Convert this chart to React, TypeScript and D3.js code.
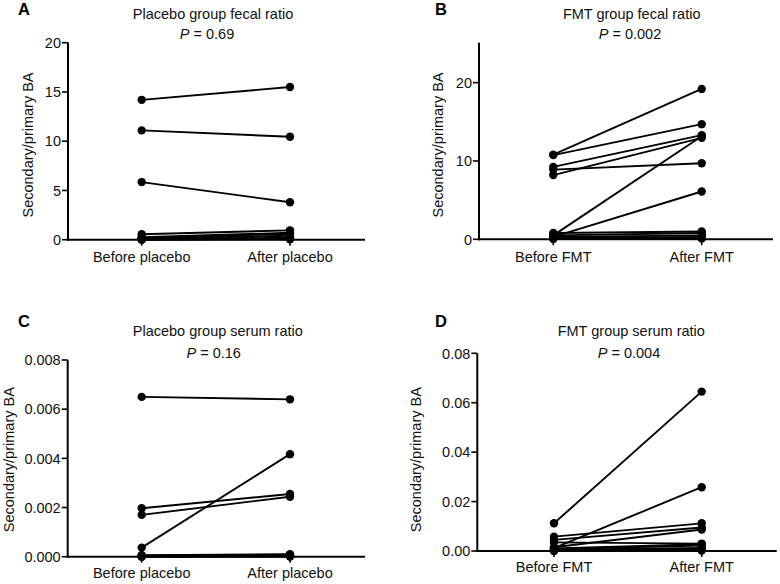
import React from "react";
import * as d3 from "d3";

// ---------- DATA ----------
const placeboLabels = ["Before placebo", "After placebo"];
const fmtLabels = ["Before FMT", "After FMT"];

const fecalPlaceboBefore = [14.2, 11.1, 5.85, 0.55, 0.25, 0.15, 0.1, 0.05, 0.02, 0.0];
const fecalPlaceboAfter = [15.5, 10.45, 3.8, 0.95, 0.7, 0.6, 0.4, 0.2, 0.1, 0.05];

const fecalFmtBefore = [10.8, 10.75, 9.25, 8.9, 8.2, 0.5, 0.3, 0.8, 0.5, 0.3, 0.15, 0.05];
const fecalFmtAfter = [19.2, 14.7, 13.3, 9.7, 12.95, 13.15, 6.1, 1.0, 0.8, 0.5, 0.3, 0.1];

const serumPlaceboBefore = [0.0065, 0.00197, 0.0017, 0.00037, 0.00006, 0.00004, 0.00003, 0.00002, 0.00001, 0.0];
const serumPlaceboAfter = [0.0064, 0.00255, 0.00244, 0.00417, 0.0001, 0.00008, 0.00005, 0.00003, 0.00002, 0.00001];

const serumFmtBefore = [0.0112, 0.0058, 0.0045, 0.0035, 0.0012, 0.0015, 0.001, 0.0008, 0.0005, 0.0003, 0.0002, 0.0];
const serumFmtAfter = [0.0645, 0.0112, 0.0095, 0.003, 0.0258, 0.0087, 0.0028, 0.0022, 0.0012, 0.0008, 0.0004, 0.0002];

const ticksA = [0, 5, 10, 15, 20];
const ticksB = [0, 10, 20];
const ticksC = [0, 0.002, 0.004, 0.006, 0.008];
const ticksD = [0, 0.02, 0.04, 0.06, 0.08];

const FONT = "'Liberation Sans', Arial, Helvetica, sans-serif";

type PanelProps = {
  letter: string;
  letterX: number;
  letterY: number;
  title: string;
  pValue: string;
  titleX: number;
  titleY: number;
  pX: number;
  pY: number;
  x0: number;
  xEnd: number;
  yTop: number;
  yBottom: number;
  domainMax: number;
  ticks: number[];
  tickFormat: (v: number) => string;
  xBefore: number;
  xAfter: number;
  catLabels: string[];
  catY: number;
  yLabelX: number;
  yLabelY: number;
  before: number[];
  after: number[];
};

function Panel(p: PanelProps) {
  const y = d3.scaleLinear().domain([0, p.domainMax]).range([p.yBottom, p.yTop]);
  const x = d3.scalePoint<string>().domain(p.catLabels).range([p.xBefore, p.xAfter]);
  const line = d3
    .line<[string, number]>()
    .x((d) => x(d[0]) as number)
    .y((d) => y(d[1]));
  const pairs = p.before.map((b, i) => [
    [p.catLabels[0], b],
    [p.catLabels[1], p.after[i]],
  ] as [string, number][]);
  return (
    <g fontFamily={FONT}>
      <text x={p.letterX} y={p.letterY} fontSize={16.5} fontWeight="bold" fill="#000">
        {p.letter}
      </text>
      <text x={p.titleX} y={p.titleY} fontSize={14.5} textAnchor="middle" fill="#111">
        {p.title}
      </text>
      <text x={p.pX} y={p.pY} fontSize={14.5} textAnchor="middle" fill="#111">
        <tspan fontStyle="italic">P</tspan>
        <tspan> = {p.pValue}</tspan>
      </text>
      {/* y axis */}
      <line x1={p.x0} x2={p.x0} y1={p.yTop} y2={p.yBottom + 1} stroke="#000" strokeWidth={2} />
      {p.ticks.map((t) => (
        <g key={t}>
          <line x1={p.x0 - 6} x2={p.x0} y1={y(t)} y2={y(t)} stroke="#000" strokeWidth={1.6} />
          <text
            x={p.x0 - 7}
            y={y(t)}
            dy="0.36em"
            fontSize={14.5}
            textAnchor="end"
            fill="#111"
          >
            {p.tickFormat(t)}
          </text>
        </g>
      ))}
      <text
        transform={`translate(${p.yLabelX},${p.yLabelY}) rotate(-90)`}
        fontSize={14.5}
        textAnchor="middle"
        fill="#111"
      >
        Secondary/primary BA
      </text>
      {/* x axis */}
      <line x1={p.x0 - 1} x2={p.xEnd} y1={p.yBottom} y2={p.yBottom} stroke="#000" strokeWidth={2} />
      {p.catLabels.map((c) => (
        <g key={c}>
          <line
            x1={x(c) as number}
            x2={x(c) as number}
            y1={p.yBottom}
            y2={p.yBottom + 6}
            stroke="#000"
            strokeWidth={1.6}
          />
          <text x={x(c) as number} y={p.catY} fontSize={14.5} textAnchor="middle" fill="#111">
            {c}
          </text>
        </g>
      ))}
      {/* data */}
      {pairs.map((pr, i) => (
        <g key={i}>
          <path d={line(pr) || ""} stroke="#000" strokeWidth={1.9} fill="none" />
          {pr.map((d, j) => (
            <circle key={j} cx={x(d[0]) as number} cy={y(d[1])} r={4.2} fill="#000" />
          ))}
        </g>
      ))}
    </g>
  );
}

export default function App() {
  const f0 = d3.format("d");
  const f3 = d3.format(".3f");
  const f2 = d3.format(".2f");
  return (
    <svg
      width={780}
      height={584}
      viewBox="0 0 780 584"
      style={{ position: "absolute", left: 0, top: 0, background: "#fff" }}
    >
      <rect width={780} height={584} fill="#fff" />
      <Panel
        letter="A"
        letterX={18}
        letterY={15}
        title="Placebo group fecal ratio"
        pValue="0.69"
        titleX={213}
        titleY={18.5}
        pX={207}
        pY={39}
        x0={68}
        xEnd={365}
        yTop={42.7}
        yBottom={239.7}
        domainMax={20}
        ticks={ticksA}
        tickFormat={f0}
        xBefore={141.7}
        xAfter={290}
        catLabels={placeboLabels}
        catY={261.7}
        yLabelX={33}
        yLabelY={145}
        before={fecalPlaceboBefore}
        after={fecalPlaceboAfter}
      />
      <Panel
        letter="B"
        letterX={435}
        letterY={15}
        title="FMT group fecal ratio"
        pValue="0.002"
        titleX={631.7}
        titleY={18.5}
        pX={630}
        pY={39}
        x0={479}
        xEnd={773}
        yTop={42.7}
        yBottom={239.3}
        domainMax={25.1}
        ticks={ticksB}
        tickFormat={f0}
        xBefore={553.3}
        xAfter={701.7}
        catLabels={fmtLabels}
        catY={261.7}
        yLabelX={443}
        yLabelY={145}
        before={fecalFmtBefore}
        after={fecalFmtAfter}
      />
      <Panel
        letter="C"
        letterX={18}
        letterY={327}
        title="Placebo group serum ratio"
        pValue="0.16"
        titleX={217.8}
        titleY={335.7}
        pX={213.7}
        pY={358.3}
        x0={67.7}
        xEnd={365}
        yTop={360}
        yBottom={556.7}
        domainMax={0.008}
        ticks={ticksC}
        tickFormat={f3}
        xBefore={141.7}
        xAfter={290}
        catLabels={placeboLabels}
        catY={578.3}
        yLabelX={14}
        yLabelY={459.7}
        before={serumPlaceboBefore}
        after={serumPlaceboAfter}
      />
      <Panel
        letter="D"
        letterX={435}
        letterY={327}
        title="FMT group serum ratio"
        pValue="0.004"
        titleX={631.3}
        titleY={335.7}
        pX={629}
        pY={358.3}
        x0={477.3}
        xEnd={776.7}
        yTop={353.3}
        yBottom={551}
        domainMax={0.08}
        ticks={ticksD}
        tickFormat={f2}
        xBefore={554}
        xAfter={701.7}
        catLabels={fmtLabels}
        catY={571.7}
        yLabelX={421}
        yLabelY={459.7}
        before={serumFmtBefore}
        after={serumFmtAfter}
      />
    </svg>
  );
}
